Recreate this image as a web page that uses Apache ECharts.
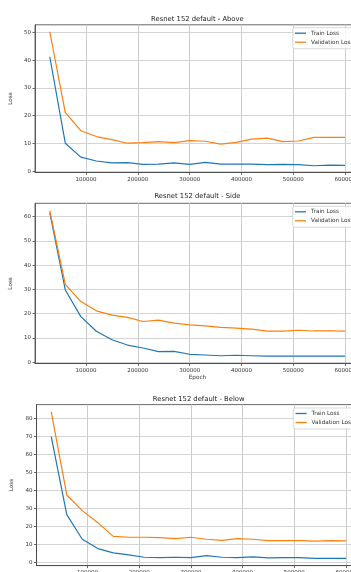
<!DOCTYPE html>
<html>
<head>
<meta charset="utf-8">
<script src="https://cdn.jsdelivr.net/npm/echarts@6/dist/echarts.min.js"></script>
<style>html,body{margin:0;padding:0;background:#fff;}#c{width:351px;height:572px;}</style>
</head>
<body>
<div id="c"></div>
<script>
const epochs = [30000,60000,90000,120000,150000,180000,210000,240000,270000,300000,330000,360000,390000,420000,450000,480000,510000,540000,570000,600000];
const xTicks = [100000,200000,300000,400000,500000,600000];

const aboveTrain = [41.2,10.1,5.1,3.7,3.0,3.1,2.5,2.6,3.0,2.5,3.2,2.6,2.6,2.6,2.4,2.5,2.4,2.0,2.2,2.1];
const aboveVal   = [50.2,21.1,14.6,12.5,11.4,10.1,10.3,10.7,10.3,11.0,10.8,9.8,10.4,11.6,11.9,10.7,10.9,12.2,12.2,12.2];
const aboveYTicks = [0,10,20,30,40,50];

const sideTrain = [61.7,29.8,18.8,12.8,9.3,7.1,5.9,4.4,4.5,3.3,3.0,2.7,2.9,2.7,2.5,2.5,2.5,2.5,2.5,2.5];
const sideVal   = [62.5,32.1,25.0,21.2,19.4,18.5,16.8,17.4,16.1,15.4,15.0,14.4,14.1,13.7,12.8,12.8,13.2,12.9,13.0,12.8];
const sideYTicks = [0,10,20,30,40,50,60];

const belowTrain = [69.8,26.5,12.8,7.6,5.2,4.1,2.8,2.6,2.8,2.6,3.7,2.8,2.6,3.0,2.4,2.6,2.6,2.2,2.2,2.2];
const belowVal   = [83.5,37.4,28.7,22.0,14.4,13.9,13.9,13.7,13.1,13.9,12.8,12.2,13.1,12.8,12.0,12.0,12.0,11.7,12.0,11.9];
const belowYTicks = [0,10,20,30,40,50,60,70,80];

const titles = ['Resnet 152 default - Above','Resnet 152 default - Side','Resnet 152 default - Below'];
const names = ['Train Loss','Validation Loss'];
const colors = ['#1f77b4','#ff7f0e'];

const FONT = 'DejaVu Sans';
const panels = [
  {train: aboveTrain, val: aboveVal, yt: aboveYTicks, ymin: -0.4, ymax: 52.7, grid: {left: 35, top: 24.8, width: 324.8, height: 147.6}, titleTop: 15.5, legendTop: 27.7, legendLeft: 292.7, xname: ''},
  {train: sideTrain, val: sideVal, yt: sideYTicks, ymin: -0.5, ymax: 65.5, grid: {left: 35, top: 203.3, width: 324.8, height: 160.2}, titleTop: 193, legendTop: 206.3, legendLeft: 292.7, xname: 'Epoch'},
  {train: belowTrain, val: belowVal, yt: belowYTicks, ymin: -1.85, ymax: 87.6, grid: {left: 36.5, top: 404.6, width: 324.3, height: 161}, titleTop: 395.5, legendTop: 408, legendLeft: 293.3, xname: ''}
];

const option = {
  animation: false,
  backgroundColor: '#fff',
  textStyle: {fontFamily: FONT},
  title: [], legend: [], grid: [], xAxis: [], yAxis: [], series: []
};

panels.forEach((p, i) => {
  option.grid.push(Object.assign({show: true, borderColor: '#444', borderWidth: 0.8, backgroundColor: 'transparent', containLabel: false, outerBoundsMode: 'none'}, p.grid));
  option.title.push({
    text: titles[i], left: p.grid.left + p.grid.width / 2, top: p.titleTop, textAlign: 'center', padding: 0,
    textStyle: {fontFamily: FONT, fontSize: 6.8, fontWeight: 'normal', color: '#222'}
  });
  option.legend.push({
    data: names, orient: 'vertical', left: p.legendLeft, top: p.legendTop,
    icon: 'rect', itemWidth: 11, itemHeight: 1.3, itemGap: 0,
    padding: [1, 3, 2, 2.3],
    backgroundColor: 'rgba(255,255,255,0.85)', borderColor: '#d0d0d0', borderWidth: 0.8, borderRadius: 2,
    textStyle: {fontFamily: FONT, fontSize: 5.7, color: '#333', lineHeight: 9},
    selectedMode: false
  });
  option.xAxis.push({
    type: 'value', gridIndex: i, min: 1500, max: 628500,
    name: p.xname, nameLocation: 'middle', nameGap: 11.5,
    nameTextStyle: {fontFamily: FONT, fontSize: 5.7, color: '#333'},
    axisLine: {show: true, onZero: false, lineStyle: {color: '#444', width: 0.8}},
    axisTick: {show: true, length: 2.5, customValues: xTicks, lineStyle: {color: '#444', width: 0.8}},
    axisLabel: {customValues: xTicks, margin: 4, fontFamily: FONT, fontSize: 5.5, color: '#333', formatter: v => String(v), hideOverlap: false},
    splitLine: {show: true, lineStyle: {color: '#cccccc', width: 1}}
  });
  option.yAxis.push({
    type: 'value', gridIndex: i, min: p.ymin, max: p.ymax,
    name: 'Loss', nameLocation: 'middle', nameGap: 15.5, nameRotate: 90,
    nameTextStyle: {fontFamily: FONT, fontSize: 5.7, color: '#333'},
    axisLine: {show: true, onZero: false, lineStyle: {color: '#444', width: 0.8}},
    axisTick: {show: true, length: 2.5, customValues: p.yt, lineStyle: {color: '#444', width: 0.8}},
    axisLabel: {customValues: p.yt, margin: 4, fontFamily: FONT, fontSize: 5.5, color: '#333', formatter: v => String(v)},
    splitLine: {show: true, lineStyle: {color: '#d4d4d4', width: 1}}
  });
  [p.train, p.val].forEach((arr, k) => {
    option.series.push({
      type: 'line', name: names[k], xAxisIndex: i, yAxisIndex: i,
      data: epochs.map((e, j) => [e, arr[j]]),
      showSymbol: false, symbol: 'none',
      lineStyle: {color: colors[k], width: 1.2},
      itemStyle: {color: colors[k]},
      silent: true
    });
  });
});

const chart = echarts.init(document.getElementById('c'), null, {renderer: 'canvas'});
chart.setOption(option);
</script>
</body>
</html>
